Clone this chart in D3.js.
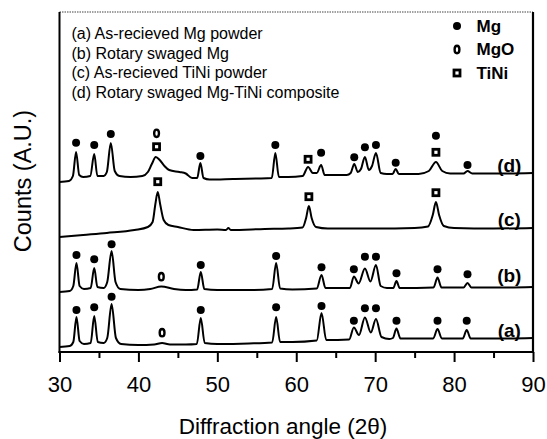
<!DOCTYPE html>
<html><head><meta charset="utf-8">
<script src="https://cdn.jsdelivr.net/npm/d3@7"></script>
<style>body{margin:0;background:#fff}svg{display:block}text{font-family:"Liberation Sans",Arial,sans-serif;fill:#000}</style>
</head><body><svg id="c" width="547" height="439"></svg>
<script>
// ---------- data (2θ in degrees, counts in arbitrary units, stacked) ----------
const xTicks = [30, 40, 50, 60, 70, 80, 90];
const xMinor = [35, 45, 55, 65, 75, 85];
const legendLines = [
  "(a) As-recieved Mg powder",
  "(b) Rotary swaged Mg",
  "(c) As-recieved TiNi powder",
  "(d) Rotary swaged Mg-TiNi composite"
];
const phaseNames = ["Mg", "MgO", "TiNi"];
const traceLabels = ["(a)", "(b)", "(c)", "(d)"];
const traceLabelPos = [[87, 22], [87, 76.5], [87, 133], [87, 187]];

const traceA = [[30,5],[31.3,6],[31.75,10],[32.15,35],[32.55,11],[33.1,8],[33.95,9],[34.4,36],[34.85,10],[35.6,9],[36.05,14],[36.6,48],[37.15,14],[37.8,8],[40,7],[42,7.5],[43.0,9],[44,7.5],[46,7.5],[47.4,8],[47.9,34],[48.4,9],[50,8],[54,8.5],[56.95,9.5],[57.45,35],[57.95,10],[59.5,10],[62.6,11.5],[63.2,39],[63.8,12],[66.7,12.5],[67.3,24.5],[67.95,17],[68.7,34.5],[69.45,19.5],[70.1,33],[70.8,15],[71.8,13],[72.25,14],[72.7,23.5],[73.2,13.5],[77.35,13.5],[77.9,23],[78.45,13.5],[81.1,13.5],[81.6,22],[82.1,13.5],[86,13.5],[90,14]];
const traceB = [[30,60],[31.3,61],[31.75,66],[32.15,89],[32.55,66],[33.1,63],[33.95,64],[34.4,84],[34.8,65],[35.6,64],[36.05,70],[36.6,101],[37.1,70],[37.7,63],[40,62],[41.5,63],[42.9,65.5],[44.5,63],[46,62],[47.45,62.5],[47.9,80],[48.35,63],[50,62],[54,62],[56.95,63],[57.45,89],[57.95,63.5],[59.5,62.5],[62.6,63.5],[63.2,77],[63.7,64],[66.8,64],[67.3,75.5],[67.9,68.5],[68.7,83.5],[69.4,70.5],[70.1,87],[70.7,66],[71.5,64],[72.3,64],[72.7,71],[73.1,64],[77.4,64.5],[77.9,74.5],[78.4,64.5],[81.2,64.5],[81.7,69],[82.2,64.5],[86,64.5],[90,65]];
const traceC = [[30,115],[33,117],[36,119],[39.5,122],[41.2,125],[41.8,130],[42.15,148],[42.45,160],[42.75,148],[43.2,132],[43.8,127],[45,125],[47,122],[50,122.5],[51.1,122],[51.4,124],[51.7,122],[56,123],[59,123.5],[60.8,124.5],[61.25,134],[61.6,146],[61.95,134],[62.5,125],[64,123.5],[70,123.5],[75,124],[76.7,125.5],[77.3,137],[77.7,150],[78.1,137],[78.7,126],[80,124],[85,123.5],[90,124]];
const traceD = [[30,170],[31.2,171],[31.7,176],[32.1,200],[32.5,177],[33.0,175],[33.9,176],[34.4,198],[34.8,176],[35.6,176],[36.0,180],[36.5,209],[37.0,181],[37.6,176],[39,175],[40.5,176],[41.2,180],[41.7,188],[42.2,195],[42.7,192],[43.3,186],[43.9,182],[45.2,180],[46.0,178.5],[46.8,174],[47.45,174],[47.85,189],[48.25,174],[49,172.5],[52,173],[55,173.5],[56.9,174],[57.35,199],[57.8,175],[59,175],[60.8,176],[61.5,185],[62.1,179],[62.6,179],[63.15,187],[63.6,177],[66.4,177],[66.9,179],[67.35,188],[67.8,180],[68.2,183],[68.7,195],[69.2,182],[69.6,186],[70.1,199],[70.7,179],[71.5,178],[72.2,178],[72.6,183],[73.0,178],[75.5,178],[76.8,181],[77.7,190],[78.5,181],[79.5,178.5],[81.2,178.5],[81.7,181],[82.3,178.5],[86,178.5],[90,179]];
const traces = [traceA, traceB, traceC, traceD];

// peak markers: [2θ, height, phase]
const markersA = [[32.15,42,"Mg"],[34.4,44.7,"Mg"],[36.6,55.3,"Mg"],[43.0,19.3,"MgO"],[47.9,42,"Mg"],[57.45,44.7,"Mg"],[63.2,46,"Mg"],[67.3,31.3,"Mg"],[68.7,43.7,"Mg"],[70.1,43.7,"Mg"],[72.7,31.3,"Mg"],[77.9,31.3,"Mg"],[81.6,31.3,"Mg"]];
const markersB = [[32.15,97,"Mg"],[34.4,92.7,"Mg"],[36.6,107.7,"Mg"],[42.9,75.3,"MgO"],[47.9,87,"Mg"],[57.45,96,"Mg"],[63.2,84.7,"Mg"],[67.3,82.7,"Mg"],[68.7,95.3,"Mg"],[70.1,95.3,"Mg"],[72.7,78.7,"Mg"],[77.9,82.7,"Mg"],[81.7,77.7,"Mg"]];
const markersC = [[42.45,170.3,"TiNi"],[61.6,155.3,"TiNi"],[77.7,159.3,"TiNi"]];
const markersD = [[32.1,209.3,"Mg"],[34.4,207,"Mg"],[36.5,218,"Mg"],[42.3,205.3,"TiNi"],[42.3,218.7,"MgO"],[47.85,196,"Mg"],[57.35,207,"Mg"],[61.5,192.7,"TiNi"],[63.15,199.3,"Mg"],[67.35,194.7,"Mg"],[68.7,204.7,"Mg"],[70.1,207,"Mg"],[72.6,189.3,"Mg"],[77.7,199.7,"TiNi"],[77.7,216.3,"Mg"],[81.7,187,"Mg"]];
const markers = [markersA, markersB, markersC, markersD];

// ---------- drawing ----------
const svg = d3.select("#c");
const x = d3.scaleLinear().domain([30, 90]).range([59.5, 533]);
const y = d3.scaleLinear().domain([0, 340]).range([352, 12]);

function drawSymbol(g, type, cx, cy) {
  if (type === "Mg") {
    g.append("circle").attr("cx", cx).attr("cy", cy).attr("r", 4).attr("fill", "#000");
  } else if (type === "MgO") {
    g.append("ellipse").attr("cx", cx).attr("cy", cy).attr("rx", 2.4).attr("ry", 3.7)
      .attr("fill", "#fff").attr("stroke", "#000").attr("stroke-width", 2.4);
  } else {
    g.append("rect").attr("x", cx - 3).attr("y", cy - 3).attr("width", 6).attr("height", 6)
      .attr("fill", "#fff").attr("stroke", "#000").attr("stroke-width", 2.8);
  }
}

// traces
const line = d3.line().x(d => x(d[0])).y(d => y(d[1])).curve(d3.curveMonotoneX);
svg.append("g").selectAll("path").data(traces).join("path")
  .attr("d", line).attr("fill", "none").attr("stroke", "#000").attr("stroke-width", 2)
  .attr("stroke-linejoin", "round");

// markers
const gm = svg.append("g");
markers.forEach(arr => arr.forEach(m => drawSymbol(gm, m[2], x(m[0]), y(m[1]))));

// trace labels
svg.append("g").selectAll("text").data(traceLabels).join("text")
  .attr("x", (d, i) => x(traceLabelPos[i][0])).attr("y", (d, i) => y(traceLabelPos[i][1]))
  .attr("text-anchor", "middle").attr("dy", "0.35em")
  .attr("font-size", 19).attr("font-weight", "bold").text(d => d);

// axes
const gx = svg.append("g").attr("transform", "translate(0,352)")
  .call(d3.axisBottom(x).tickValues(xTicks).tickSize(10).tickPadding(14).tickFormat(d3.format("d")));
gx.select(".domain").remove();
gx.selectAll("line").attr("stroke-width", 2);
gx.selectAll("text").attr("font-size", 22).attr("font-family", '"Liberation Sans", Arial, sans-serif');
const gxm = svg.append("g").attr("transform", "translate(0,352)")
  .call(d3.axisBottom(x).tickValues(xMinor).tickSize(6).tickFormat(""));
gxm.select(".domain").remove();
gxm.selectAll("line").attr("stroke-width", 2);

// frame
const fr = svg.append("g").attr("fill", "none");
fr.append("line").attr("x1", x(30)).attr("x2", x(90)).attr("y1", y(340)).attr("y2", y(340))
  .attr("stroke", "#444").attr("stroke-width", 1.2).attr("stroke-dasharray", "1.5,1");
fr.append("line").attr("x1", x(30)).attr("x2", x(30)).attr("y1", y(340)).attr("y2", y(0) + 1)
  .attr("stroke", "#000").attr("stroke-width", 2);
fr.append("line").attr("x1", x(90)).attr("x2", x(90)).attr("y1", y(340)).attr("y2", y(0) + 1)
  .attr("stroke", "#000").attr("stroke-width", 2.2);
fr.append("line").attr("x1", x(30) - 1).attr("x2", x(90) + 1).attr("y1", y(0)).attr("y2", y(0))
  .attr("stroke", "#000").attr("stroke-width", 2);

// axis titles
svg.append("text").attr("x", 283).attr("y", 434).attr("text-anchor", "middle")
  .attr("font-size", 22.5).text("Diffraction angle (2θ)");
svg.append("text").attr("transform", "translate(31,181) rotate(-90)").attr("text-anchor", "middle")
  .attr("font-size", 23.5).text("Counts (A.U.)");

// left legend
svg.append("g").selectAll("text").data(legendLines).join("text")
  .attr("x", 71.5).attr("y", (d, i) => 33.5 + i * 19.5).attr("dy", "0.35em")
  .attr("font-size", 16).text(d => d);

// right legend
const gl = svg.append("g");
const legY = [26, 49.5, 73];
phaseNames.forEach((p, i) => {
  drawSymbol(gl, p, 457, legY[i]);
  gl.append("text").attr("x", 476.5).attr("y", legY[i]).attr("dy", "0.35em")
    .attr("font-size", 17).attr("font-weight", "bold").text(p);
});
</script></body></html>
